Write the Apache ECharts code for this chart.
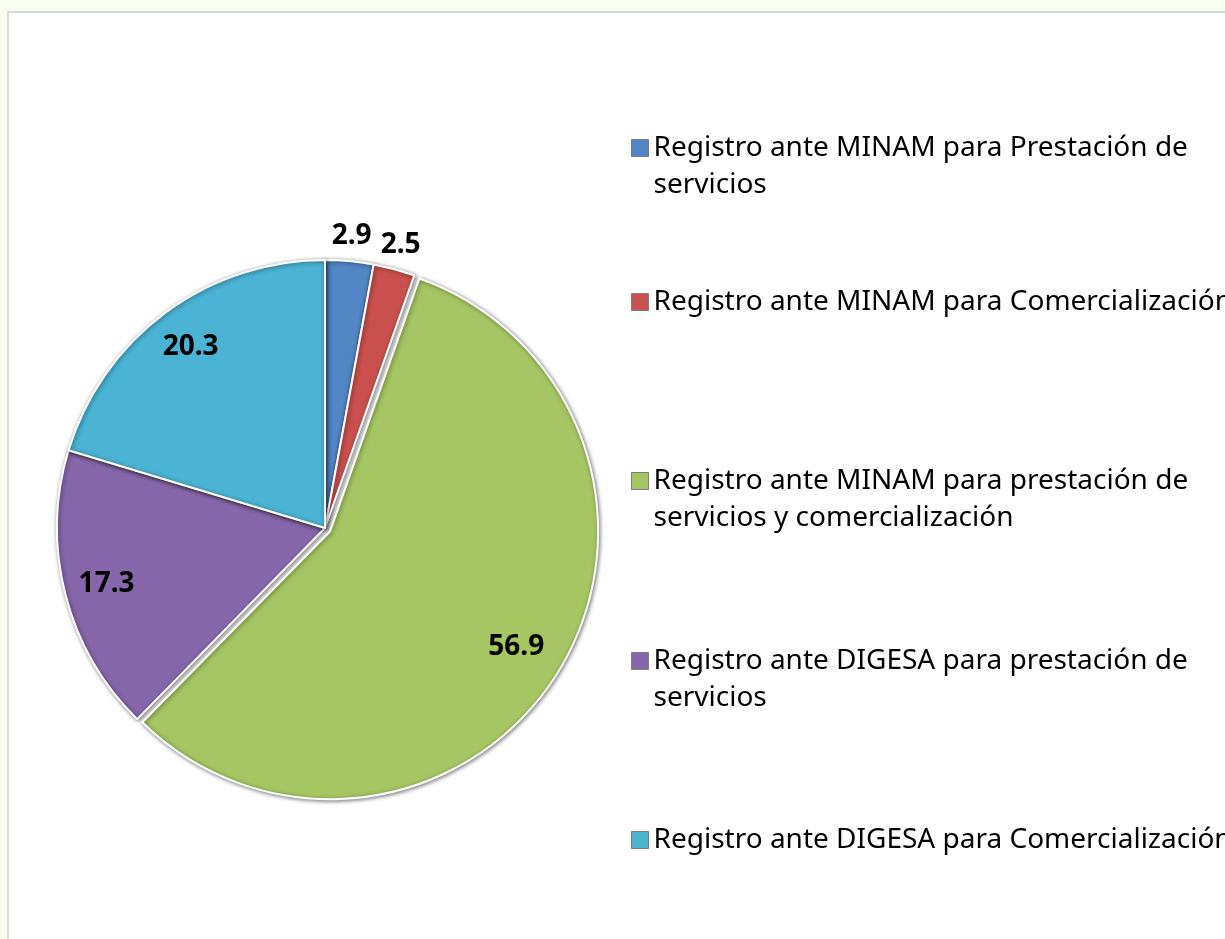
<!DOCTYPE html>
<html>
<head>
<meta charset="utf-8">
<script src="https://cdn.jsdelivr.net/npm/echarts@6/dist/echarts.min.js"></script>
<style>
    html, body { margin: 0; padding: 0; background: #f9fef1; overflow: hidden; }
    .frame { position: absolute; left: 7px; top: 11px; width: 1240px; height: 960px;
             border: 2px solid #d9d9d9; background: #ffffff; }
    #chart { position: absolute; left: 0; top: 0; width: 1225px; height: 939px; }
</style>
</head>
<body>
<div class="frame"></div>
<div id="chart"></div>
<script>
    // datos del grafico
    var categorias = [
        'Registro ante MINAM para Prestación de\nservicios',
        'Registro ante MINAM para Comercialización',
        'Registro ante MINAM para prestación de\nservicios y comercialización',
        'Registro ante DIGESA para prestación de\nservicios',
        'Registro ante DIGESA para Comercialización'
    ];
    var valores = [2.9, 2.5, 56.9, 17.3, 20.3];
    var colores = ['#5286c5', '#c9504d', '#a5c663', '#8667ab', '#4bb3d3'];

    var centro = [325, 528];
    var radio = 268;
    var fuente = '"Noto Sans", "Open Sans", sans-serif';
    var alto = 37;

    var chart = echarts.init(document.getElementById('chart'));

    // leyendas: una por item para fijar la posicion vertical de cada una
    var leyendaY = [148, 302, 481, 661, 840];
    var leyendas = categorias.map(function (nombre, i) {
        var dosLineas = nombre.indexOf('\n') >= 0;
        return {
            data: [nombre],
            left: 631,
            top: dosLineas ? leyendaY[i] - alto * 1.5 : leyendaY[i] - alto / 2,
            padding: 0,
            icon: 'rect',
            itemWidth: 17,
            itemHeight: 17,
            itemGap: 0,
            selectedMode: false,
            itemStyle: { borderColor: '#7f7f7f', borderWidth: 1 },
            // linea vacia arriba para que el icono quede junto a la primera linea
            formatter: function (n) { return n.indexOf('\n') >= 0 ? '\n' + n : n; },
            textStyle: {
                fontFamily: fuente,
                fontSize: 28,
                color: '#000',
                lineHeight: alto
            }
        };
    });

    var etiqueta = {
        color: '#000',
        fontFamily: fuente,
        fontWeight: 'bold',
        fontSize: 28,
        formatter: '{c}'
    };

    var option = {
        animation: false,
        legend: leyendas,
        series: [
            {
                type: 'pie',
                z: 2,
                center: centro,
                radius: [0, radio],
                startAngle: 90,
                clockwise: true,
                selectedMode: 'single',
                selectedOffset: 6,
                silent: true,
                label: { show: false },
                labelLine: { show: false },
                itemStyle: {
                    borderColor: '#ffffff',
                    borderWidth: 2,
                    shadowColor: 'rgba(0,0,0,0.5)',
                    shadowBlur: 4,
                    shadowOffsetX: 1,
                    shadowOffsetY: 1
                },
                data: categorias.map(function (n, i) {
                    return {
                        name: n,
                        value: valores[i],
                        selected: i === 2,
                        itemStyle: { color: colores[i] }
                    };
                })
            },
            {
                // etiquetas dentro de las porciones grandes
                type: 'pie',
                z: 5,
                center: centro,
                radius: [radio * 0.66, radio],
                startAngle: 90,
                silent: true,
                avoidLabelOverlap: false,
                itemStyle: { color: 'transparent' },
                labelLine: { show: false },
                label: Object.assign({ position: 'inside' }, etiqueta),
                data: categorias.map(function (n, i) {
                    return { name: n, value: valores[i], label: { show: valores[i] >= 10 } };
                })
            },
            {
                // etiquetas fuera de las porciones pequenas
                type: 'pie',
                z: 5,
                center: centro,
                radius: [radio, radio + 44],
                startAngle: 90,
                silent: true,
                avoidLabelOverlap: false,
                itemStyle: { color: 'transparent' },
                labelLine: { show: false },
                label: Object.assign({ position: 'inside' }, etiqueta),
                data: categorias.map(function (n, i) {
                    return { name: n, value: valores[i], label: { show: valores[i] < 10 } };
                })
            }
        ]
    };

    chart.setOption(option);
</script>
</body>
</html>
